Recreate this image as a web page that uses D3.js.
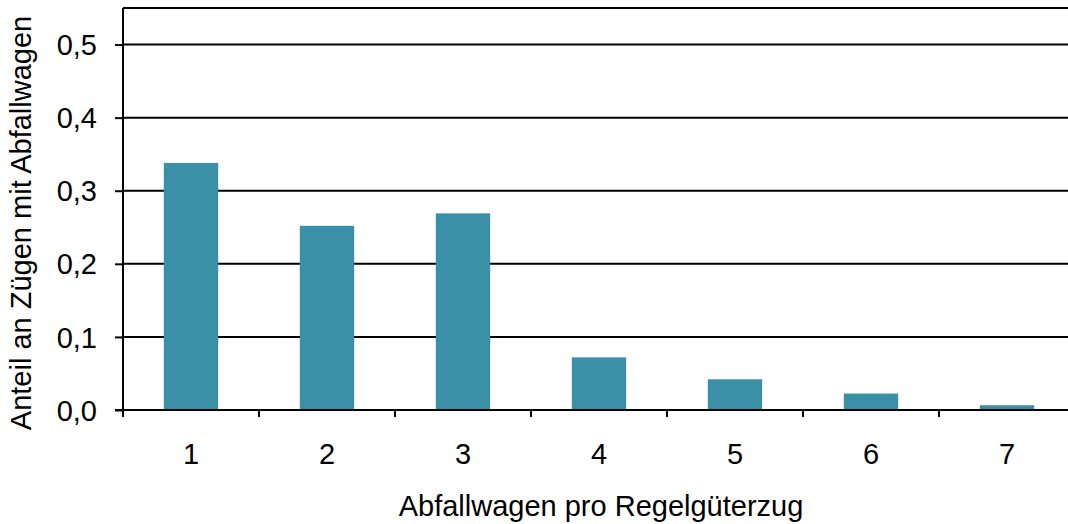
<!DOCTYPE html>
<html>
<head>
<meta charset="utf-8">
<script src="https://cdn.jsdelivr.net/npm/d3@7"></script>
<style>
  body { margin: 0; background: #fff; }
  text { font-family: "Liberation Sans", Arial, sans-serif; fill: #000; }
</style>
</head>
<body>
<svg id="chart" width="1068" height="524"></svg>
<script>
// values
const categories = ["1", "2", "3", "4", "5", "6", "7"];
const shares = [0.338, 0.252, 0.269, 0.072, 0.042, 0.0225, 0.0065];
const yTicks = [0, 0.1, 0.2, 0.3, 0.4, 0.5];

const margin = { left: 123, top: 8, bottom: 114 };
const width = 1075; // plot runs past the window edge, like the original
const height = 524;
const fontSize = 29;

const svg = d3.select("#chart");

const x = d3.scaleBand()
    .domain(categories)
    .range([margin.left, width])
    .paddingInner(0.6)
    .paddingOuter(0.3);

const y = d3.scaleLinear()
    .domain([0, 0.55])
    .range([height - margin.bottom, margin.top]);

// gridlines, including the top line at 0.55
svg.append("g")
    .selectAll("line")
    .data(yTicks.filter(d => d > 0).concat([0.55]))
    .join("line")
    .attr("x1", margin.left)
    .attr("x2", width)
    .attr("y1", d => y(d))
    .attr("y2", d => y(d))
    .attr("stroke", "#000")
    .attr("stroke-width", 2);

// bars
svg.append("g")
    .selectAll("rect")
    .data(shares)
    .join("rect")
    .attr("x", (d, i) => x(categories[i]))
    .attr("width", x.bandwidth())
    .attr("y", d => y(d))
    .attr("height", d => y(0) - y(d))
    .attr("fill", "#3a91a7");

// y axis
const yAxis = svg.append("g")
    .attr("transform", `translate(${margin.left},0)`)
    .call(d3.axisLeft(y).tickValues(yTicks).tickSize(8).tickPadding(18)
        .tickFormat(d => d3.format(".1f")(d).replace(".", ",")));
yAxis.select(".domain").attr("stroke-width", 2).attr("d", `M0,${y(0.55)}V${y(0)}`);
yAxis.selectAll(".tick line").attr("stroke-width", 2);
yAxis.selectAll("text").attr("font-size", fontSize).attr("dy", "0.35em");

// x axis with ticks between the categories
const step = x.step();
const xTickPos = d3.range(categories.length + 1).map(i => margin.left + i * step);
const xAxis = svg.append("g");
xAxis.append("line")
    .attr("x1", margin.left - 8).attr("x2", width)
    .attr("y1", y(0)).attr("y2", y(0))
    .attr("stroke", "#000").attr("stroke-width", 2);
xAxis.selectAll("line.tick")
    .data(xTickPos)
    .join("line")
    .attr("class", "tick")
    .attr("x1", d => d).attr("x2", d => d)
    .attr("y1", y(0)).attr("y2", y(0) + 7)
    .attr("stroke", "#000").attr("stroke-width", 2);
xAxis.selectAll("text")
    .data(categories)
    .join("text")
    .attr("x", d => x(d) + x.bandwidth() / 2)
    .attr("y", y(0) + 54)
    .attr("text-anchor", "middle")
    .attr("font-size", fontSize)
    .text(d => d);

// axis titles
svg.append("text")
    .attr("x", 601)
    .attr("y", 516)
    .attr("text-anchor", "middle")
    .attr("font-size", fontSize)
    .text("Abfallwagen pro Regelgüterzug");

svg.append("text")
    .attr("transform", "translate(31,223) rotate(-90)")
    .attr("text-anchor", "middle")
    .attr("font-size", fontSize)
    .text("Anteil an Zügen mit Abfallwagen");
</script>
</body>
</html>
